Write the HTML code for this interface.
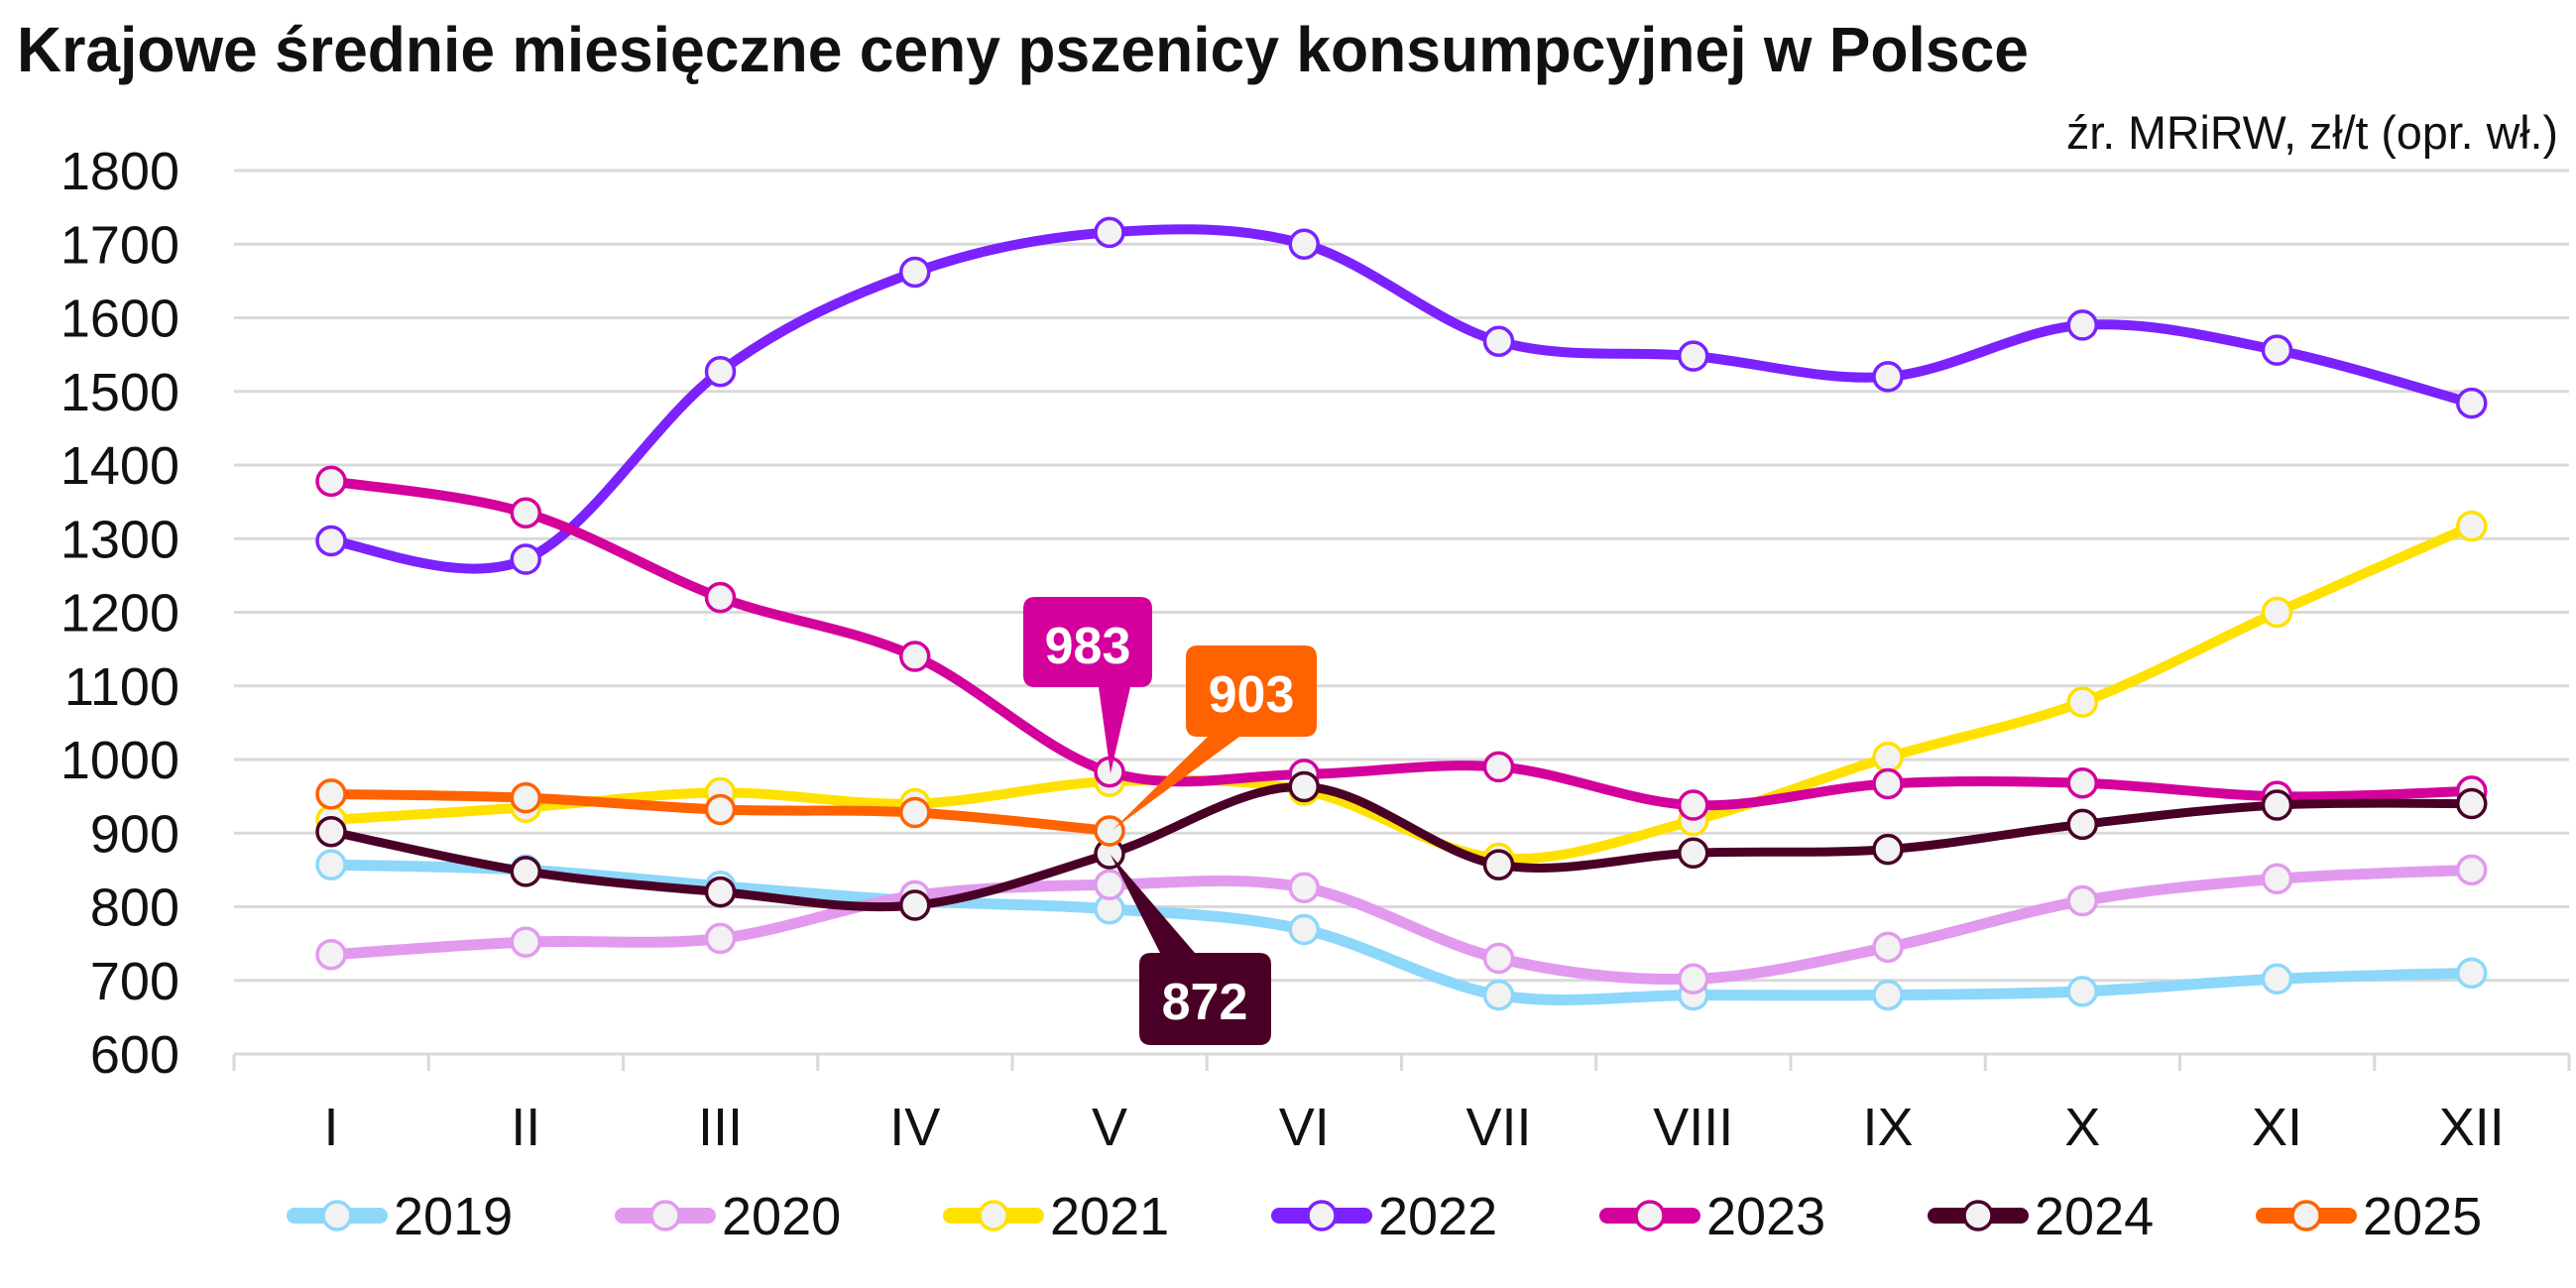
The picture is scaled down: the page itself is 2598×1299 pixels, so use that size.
<!DOCTYPE html>
<html><head><meta charset="utf-8"><style>
html,body{margin:0;padding:0;background:#fff;}
svg{display:block;font-family:"Liberation Sans",sans-serif;}
</style></head><body>
<svg id="s" width="2598" height="1299" viewBox="0 0 2598 1299" xmlns="http://www.w3.org/2000/svg">
<text x="17" y="72" font-size="64" font-weight="bold" fill="#111" textLength="2029" lengthAdjust="spacingAndGlyphs">Krajowe średnie miesięczne ceny pszenicy konsumpcyjnej w Polsce</text>
<text x="2580" y="150" font-size="47" fill="#111" text-anchor="end" textLength="496" lengthAdjust="spacingAndGlyphs">źr. MRiRW, zł/t (opr. wł.)</text>
<g id="grid"></g>
<g id="series"></g>
<g id="call">
 <path d="M1044,602 H1150 Q1162,602 1162,614 V681 Q1162,693 1150,693 H1140 L1120,780 L1108,693 H1044 Q1032,693 1032,681 V614 Q1032,602 1044,602 Z" fill="#d4009c"/>
 <text x="1097" y="669" font-size="52" font-weight="bold" fill="#fff" text-anchor="middle">983</text>
 <path d="M1208,651 H1316 Q1328,651 1328,663 V731 Q1328,743 1316,743 H1250 L1122,837 L1218,743 H1208 Q1196,743 1196,731 V663 Q1196,651 1208,651 Z" fill="#ff6200"/>
 <text x="1262" y="718" font-size="52" font-weight="bold" fill="#fff" text-anchor="middle">903</text>
 <path d="M1161,961 H1170 L1120,862 L1205,961 H1270 Q1282,961 1282,973 V1042 Q1282,1054 1270,1054 H1161 Q1149,1054 1149,1042 V973 Q1149,961 1161,961 Z" fill="#4a0026"/>
 <text x="1215" y="1028" font-size="52" font-weight="bold" fill="#fff" text-anchor="middle">872</text>
</g>
<g id="leg"></g>
</svg>
<script>
var NS="http://www.w3.org/2000/svg";
function el(p,t,a,txt){var e=document.createElementNS(NS,t);for(var k in a)e.setAttribute(k,a[k]);if(txt!=null)e.textContent=txt;p.appendChild(e);return e;}
function Y(v){return 172+(1800-v)*0.7425;}
function X(i){return 334+196.25*i;}
var g=document.getElementById('grid');
for(var v=600;v<=1800;v+=100){
 if(v>600)el(g,'line',{x1:236,x2:2591,y1:Y(v),y2:Y(v),stroke:'#d9d9d9','stroke-width':3});
 el(g,'text',{x:181,y:Y(v)+19,'font-size':54,fill:'#111','text-anchor':'end'},String(v));
}
el(g,'line',{x1:236,x2:2591,y1:1063,y2:1063,stroke:'#d9d9d9','stroke-width':3});
for(var k=0;k<=12;k++)el(g,'line',{x1:236+196.25*k,x2:236+196.25*k,y1:1063,y2:1080,stroke:'#d9d9d9','stroke-width':3});
var mon=['I','II','III','IV','V','VI','VII','VIII','IX','X','XI','XII'];
mon.forEach(function(m,i){el(g,'text',{x:X(i),y:1155,'font-size':54,fill:'#111','text-anchor':'middle'},m);});
var S=[
['2019','#8dd7fb',11,[857,850,828,808,797,769,680,680,680,685,702,710]],
['2020','#e29aee',11,[735,752,757,815,830,826,730,702,745,808,838,850]],
['2021','#ffe100',10,[918,935,955,940,970,958,866,917,1003,1078,1200,1317]],
['2022','#7b22ff',10,[1297,1272,1527,1662,1716,1700,1568,1548,1520,1590,1556,1484]],
['2023','#d4009c',10,[1378,1335,1220,1140,983,980,990,938,967,968,950,957]],
['2024','#4a0026',9,[902,848,820,802,872,963,857,873,878,912,938,940]],
['2025','#ff6200',10,[953,948,932,928,903]]
];
var sg=document.getElementById('series');
S.forEach(function(s){
 var p=s[3].map(function(v,i){return [X(i),Y(v)];});
 var d='M'+p[0][0]+','+p[0][1];
 for(var i=0;i<p.length-1;i++){
  var p0=p[i-1]||p[i],p1=p[i],p2=p[i+1],p3=p[i+2]||p[i+1],t=1/6;
  d+=' C'+(p1[0]+(p2[0]-p0[0])*t)+','+(p1[1]+(p2[1]-p0[1])*t)+' '+(p2[0]-(p3[0]-p1[0])*t)+','+(p2[1]-(p3[1]-p1[1])*t)+' '+p2[0]+','+p2[1];
 }
 el(sg,'path',{d:d,fill:'none',stroke:s[1],'stroke-width':s[2],'stroke-linecap':'round','stroke-linejoin':'round'});
 p.forEach(function(q){el(sg,'circle',{cx:q[0],cy:q[1],r:14,fill:'#f2f2f2',stroke:s[1],'stroke-width':3.5});});
});
var lg=document.getElementById('leg');
S.forEach(function(s,i){
 var x0=289+331*i,y=1226;
 el(lg,'line',{x1:x0+8,x2:x0+94,y1:y,y2:y,stroke:s[1],'stroke-width':16,'stroke-linecap':'round'});
 el(lg,'circle',{cx:x0+51,cy:y,r:14,fill:'#f2f2f2',stroke:s[1],'stroke-width':3.5});
 el(lg,'text',{x:x0+108,y:y+19,'font-size':54,fill:'#111'},s[0]);
});
</script>
</body></html>
